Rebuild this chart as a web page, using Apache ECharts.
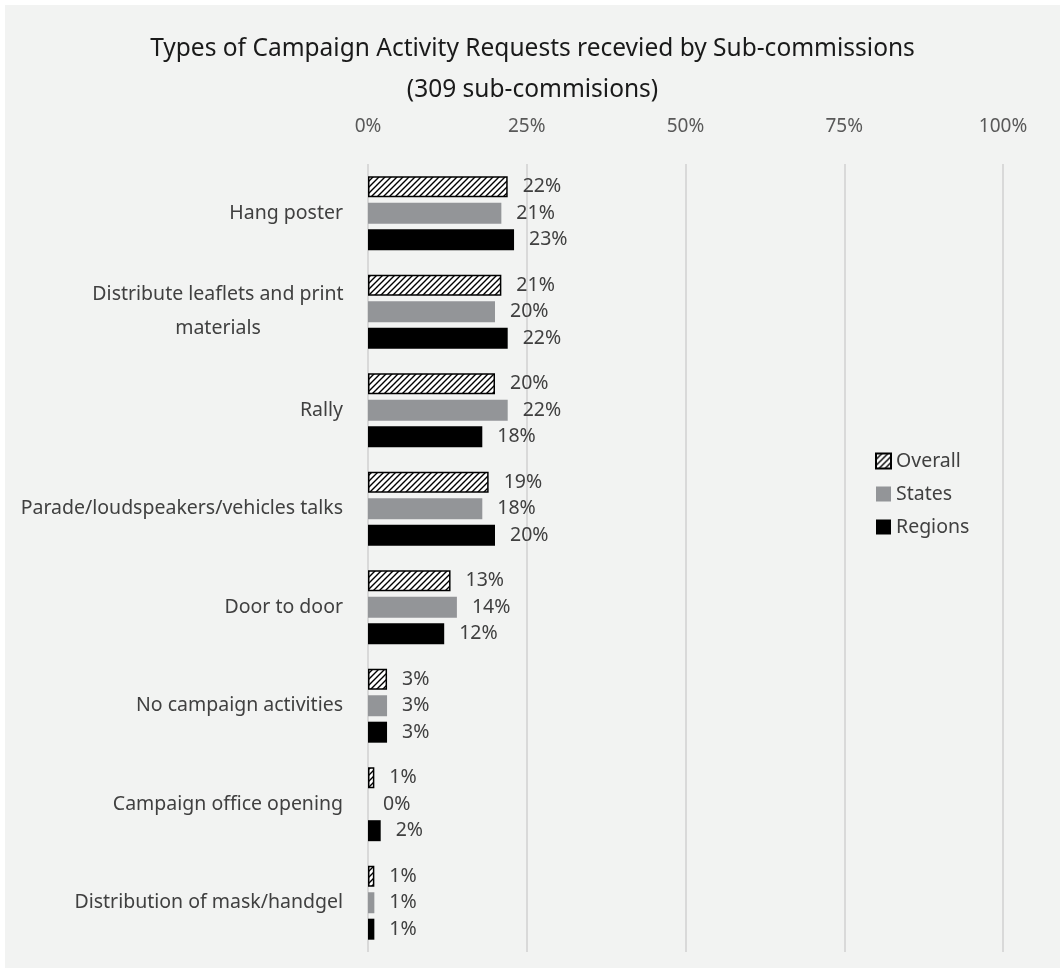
<!DOCTYPE html>
<html>
<head>
<meta charset="utf-8">
<script src="https://cdn.jsdelivr.net/npm/echarts@6/dist/echarts.min.js"></script>
<style>
html,body{margin:0;padding:0;background:#ffffff;}
#chart{position:absolute;left:5px;top:5px;width:1055px;height:963px;background:#f2f3f2;}
</style>
</head>
<body>
<div id="chart"></div>
<script>
const categories = [
  'Hang poster',
  'Distribute leaflets and print materials',
  'Rally',
  'Parade/loudspeakers/vehicles talks',
  'Door to door',
  'No campaign activities',
  'Campaign office opening',
  'Distribution of mask/handgel'
];
const overall = [22, 21, 20, 19, 13, 3, 1, 1];
const states  = [21, 20, 22, 18, 14, 3, 0, 1];
const regions = [23, 22, 18, 20, 12, 3, 2, 1];
const xTicks = [0, 25, 50, 75, 100];
const seriesNames = ['Overall', 'States', 'Regions'];

function hatch() {
  const c = document.createElement('canvas');
  c.width = 6; c.height = 6;
  const g = c.getContext('2d');
  g.fillStyle = '#ffffff';
  g.fillRect(0, 0, 6, 6);
  g.strokeStyle = '#000000';
  g.lineWidth = 1.4;
  g.beginPath();
  g.moveTo(-1, 7); g.lineTo(7, -1);
  g.moveTo(-4, 4); g.lineTo(4, -4);
  g.moveTo(2, 10); g.lineTo(10, 2);
  g.stroke();
  return { image: c, repeat: 'repeat' };
}

const FS = 19.5;
const chart = echarts.init(document.getElementById('chart'));
const labelCfg = {
  show: true,
  position: 'right',
  distance: 15,
  fontSize: FS,
  color: '#404040',
  fontFamily: 'Noto Sans',
  formatter: p => p.value + '%'
};
chart.setOption({
  backgroundColor: '#f2f3f2',
  animation: false,
  title: {
    text: 'Types of Campaign Activity Requests recevied by Sub-commissions\n(309 sub-commisions)',
    left: 'center',
    top: 19,
    textStyle: { fontFamily: 'Noto Sans', fontSize: 24.5, fontWeight: 'normal', color: '#1a1a1a', lineHeight: 41 }
  },
  legend: {
    orient: 'vertical',
    left: 865,
    top: 441,
    itemWidth: 15,
    itemHeight: 15,
    itemGap: 13,
    icon: 'rect',
    textStyle: { fontFamily: 'Noto Sans', fontSize: FS, color: '#404040', lineHeight: 20 },
    data: seriesNames
  },
  grid: { left: 363, right: 57, top: 159, bottom: 16, containLabel: false },
  xAxis: {
    type: 'value',
    position: 'top',
    min: xTicks[0],
    max: xTicks[xTicks.length - 1],
    interval: 25,
    axisLine: { show: false },
    axisTick: { show: false },
    axisLabel: { formatter: '{value}%', fontFamily: 'Noto Sans', fontSize: 19, color: '#595959', margin: 28 },
    splitLine: { lineStyle: { color: '#d9d9d9', width: 2 } }
  },
  yAxis: {
    type: 'category',
    inverse: true,
    data: categories,
    axisLine: { show: false },
    axisTick: { show: false },
    axisLabel: {
      margin: 25,
      fontFamily: 'Noto Sans',
      fontSize: FS,
      color: '#404040',
      lineHeight: 34,
      formatter: v => v === 'Distribute leaflets and print materials'
        ? '{c|Distribute leaflets and print}\n{c|materials}'
        : v,
      rich: { c: { width: 250, align: 'center', fontFamily: 'Noto Sans', fontSize: FS, color: '#404040', lineHeight: 34 } }
    }
  },
  series: [
    { name: seriesNames[0], type: 'bar', data: overall, barGap: '26%', barCategoryGap: '25%',
      itemStyle: { color: hatch(), borderColor: '#000000', borderWidth: 1.5 }, label: labelCfg },
    { name: seriesNames[1], type: 'bar', data: states, barGap: '26%', barCategoryGap: '25%',
      itemStyle: { color: '#939598' }, label: labelCfg },
    { name: seriesNames[2], type: 'bar', data: regions, barGap: '26%', barCategoryGap: '25%',
      itemStyle: { color: '#000000' }, label: labelCfg }
  ]
});
</script>
</body>
</html>
